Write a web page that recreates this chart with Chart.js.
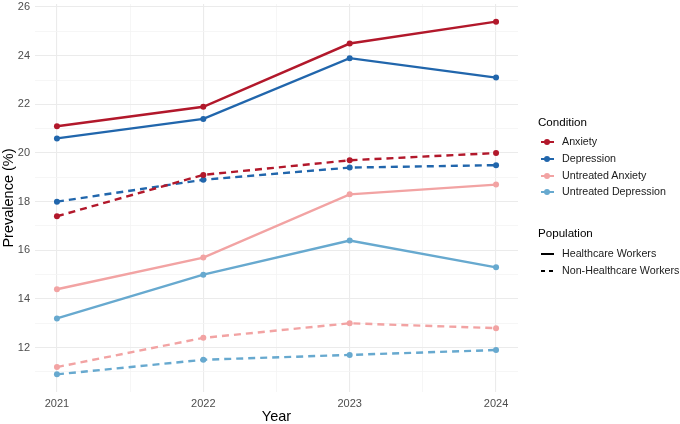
<!DOCTYPE html>
<html>
<head>
<meta charset="utf-8">
<script src="https://cdn.jsdelivr.net/npm/chart.js@4"></script>
<style>
  html, body { margin: 0; padding: 0; background: #fff; }
  #wrap { position: relative; width: 680px; height: 424px; font-family: "Liberation Sans", Arial, sans-serif; }
  #c { position: absolute; left: 0; top: 0; }
  .lg-title { position: absolute; font-size: 11.6px; color: #000; line-height: 14px; white-space: nowrap; }
  .lg-item { position: absolute; font-size: 10.7px; color: #1a1a1a; line-height: 13px; white-space: nowrap; }
  .key { position: absolute; }
</style>
</head>
<body>
<div id="wrap">
  <canvas id="c" width="680" height="424"></canvas>
  <div id="legend"></div>
</div>
<script>
// ---- data ----
const years = [2021, 2022, 2023, 2024];
const conditions = ['Anxiety', 'Depression', 'Untreated Anxiety', 'Untreated Depression'];
const populations = ['Healthcare Workers', 'Non-Healthcare Workers'];
const conditionColors = ['#B2182B', '#2166AC', '#F2A3A3', '#67A9CF'];

const anxietyHCW = [21.1, 21.9, 24.5, 25.4];
const depressionHCW = [20.6, 21.4, 23.9, 23.1];
const untreatedAnxietyHCW = [14.4, 15.7, 18.3, 18.7];
const untreatedDepressionHCW = [13.2, 15.0, 16.4, 15.3];

const anxietyNonHCW = [17.4, 19.1, 19.7, 20.0];
const depressionNonHCW = [18.0, 18.9, 19.4, 19.5];
const untreatedAnxietyNonHCW = [11.2, 12.4, 13.0, 12.8];
const untreatedDepressionNonHCW = [10.9, 11.5, 11.7, 11.9];

const xTickValues = [2021, 2021.5, 2022, 2022.5, 2023, 2023.5, 2024];
const yTickValues = [11, 12, 13, 14, 15, 16, 17, 18, 19, 20, 21, 22, 23, 24, 25, 26];

// ---- build ----
const hcwSeries = [anxietyHCW, depressionHCW, untreatedAnxietyHCW, untreatedDepressionHCW];
const nonSeries = [anxietyNonHCW, depressionNonHCW, untreatedAnxietyNonHCW, untreatedDepressionNonHCW];

function mk(label, vals, color, dashed) {
  return {
    label: label,
    data: years.map((y, i) => ({ x: y, y: vals[i] })),
    borderColor: color,
    backgroundColor: color,
    pointBackgroundColor: color,
    pointBorderWidth: 0,
    pointRadius: 3,
    borderWidth: 2.4,
    borderDash: dashed ? [7, 5] : [],
    tension: 0,
    fill: false
  };
}
const datasets = [];
conditions.forEach((c, i) => {
  datasets.push(mk(c + ' - ' + populations[0], hcwSeries[i], conditionColors[i], false));
  datasets.push(mk(c + ' - ' + populations[1], nonSeries[i], conditionColors[i], true));
});

const FONT = '"Liberation Sans", Arial, sans-serif';
const isMajorX = v => Math.abs(v - Math.round(v)) < 1e-6;
const isMajorY = v => Math.round(v) % 2 === 0;

new Chart(document.getElementById('c'), {
  type: 'line',
  data: { datasets },
  options: {
    responsive: false,
    animation: false,
    devicePixelRatio: 1,
    layout: { padding: { left: 0, right: 162, top: 2, bottom: 0 } },
    plugins: { legend: { display: false }, tooltip: { enabled: false } },
    scales: {
      x: {
        type: 'linear',
        min: 2020.85,
        max: 2024.15,
        afterBuildTicks: s => { s.ticks = xTickValues.map(v => ({ value: v })); },
        afterFit: s => { s.height = 32; s.paddingLeft = 0; s.paddingRight = 0; },
        border: { display: false },
        grid: {
          drawTicks: false,
          color: ctx => isMajorX(ctx.tick.value) ? '#EBEBEB' : '#F4F4F4',
          lineWidth: ctx => isMajorX(ctx.tick.value) ? 1.1 : 0.8
        },
        ticks: {
          autoSkip: false,
          maxRotation: 0,
          padding: 5,
          color: '#4D4D4D',
          font: { family: FONT, size: 11 },
          callback: v => isMajorX(v) ? String(Math.round(v)) : ''
        },
        title: { display: true, text: 'Year', color: '#000', font: { family: FONT, size: 14.5, lineHeight: 1.0 }, padding: { top: 0, bottom: 0 } }
      },
      y: {
        type: 'linear',
        min: 10.175,
        max: 26.125,
        afterBuildTicks: s => { s.ticks = yTickValues.map(v => ({ value: v })); },
        afterFit: s => { s.width = 35; s.paddingTop = 0; s.paddingBottom = 0; },
        border: { display: false },
        grid: {
          drawTicks: false,
          color: ctx => isMajorY(ctx.tick.value) ? '#EBEBEB' : '#F4F4F4',
          lineWidth: ctx => isMajorY(ctx.tick.value) ? 1.1 : 0.8
        },
        ticks: {
          autoSkip: false,
          padding: 5,
          color: '#4D4D4D',
          font: { family: FONT, size: 11 },
          callback: v => isMajorY(v) ? String(v) : ''
        },
        title: { display: true, text: 'Prevalence (%)', color: '#000', font: { family: FONT, size: 14.5 }, padding: { top: 0, bottom: 0 } }
      }
    }
  }
});

// ---- legend (HTML) ----
const lg = document.getElementById('legend');
function add(html) { lg.insertAdjacentHTML('beforeend', html); }
add('<div class="lg-title" style="left:538px;top:115px">Condition</div>');
const condY = [142, 159, 176, 192];
conditions.forEach((c, i) => {
  const y = condY[i];
  add(`<div class="key" style="left:541px;top:${y - 1}px;width:13px;height:2.4px;background:${conditionColors[i]}"></div>`);
  add(`<div class="key" style="left:544px;top:${y - 3}px;width:6px;height:6px;border-radius:50%;background:${conditionColors[i]}"></div>`);
  add(`<div class="lg-item" style="left:562px;top:${y - 7}px">${c}</div>`);
});
add('<div class="lg-title" style="left:538px;top:226px">Population</div>');
add('<div class="key" style="left:541px;top:253px;width:13px;height:2.4px;background:#000"></div>');
add('<div class="lg-item" style="left:562px;top:247px">' + populations[0] + '</div>');
add('<div class="key" style="left:541px;top:270px;width:4px;height:2.4px;background:#000"></div>');
add('<div class="key" style="left:549px;top:270px;width:4px;height:2.4px;background:#000"></div>');
add('<div class="lg-item" style="left:562px;top:264px">' + populations[1] + '</div>');
</script>
</body>
</html>
